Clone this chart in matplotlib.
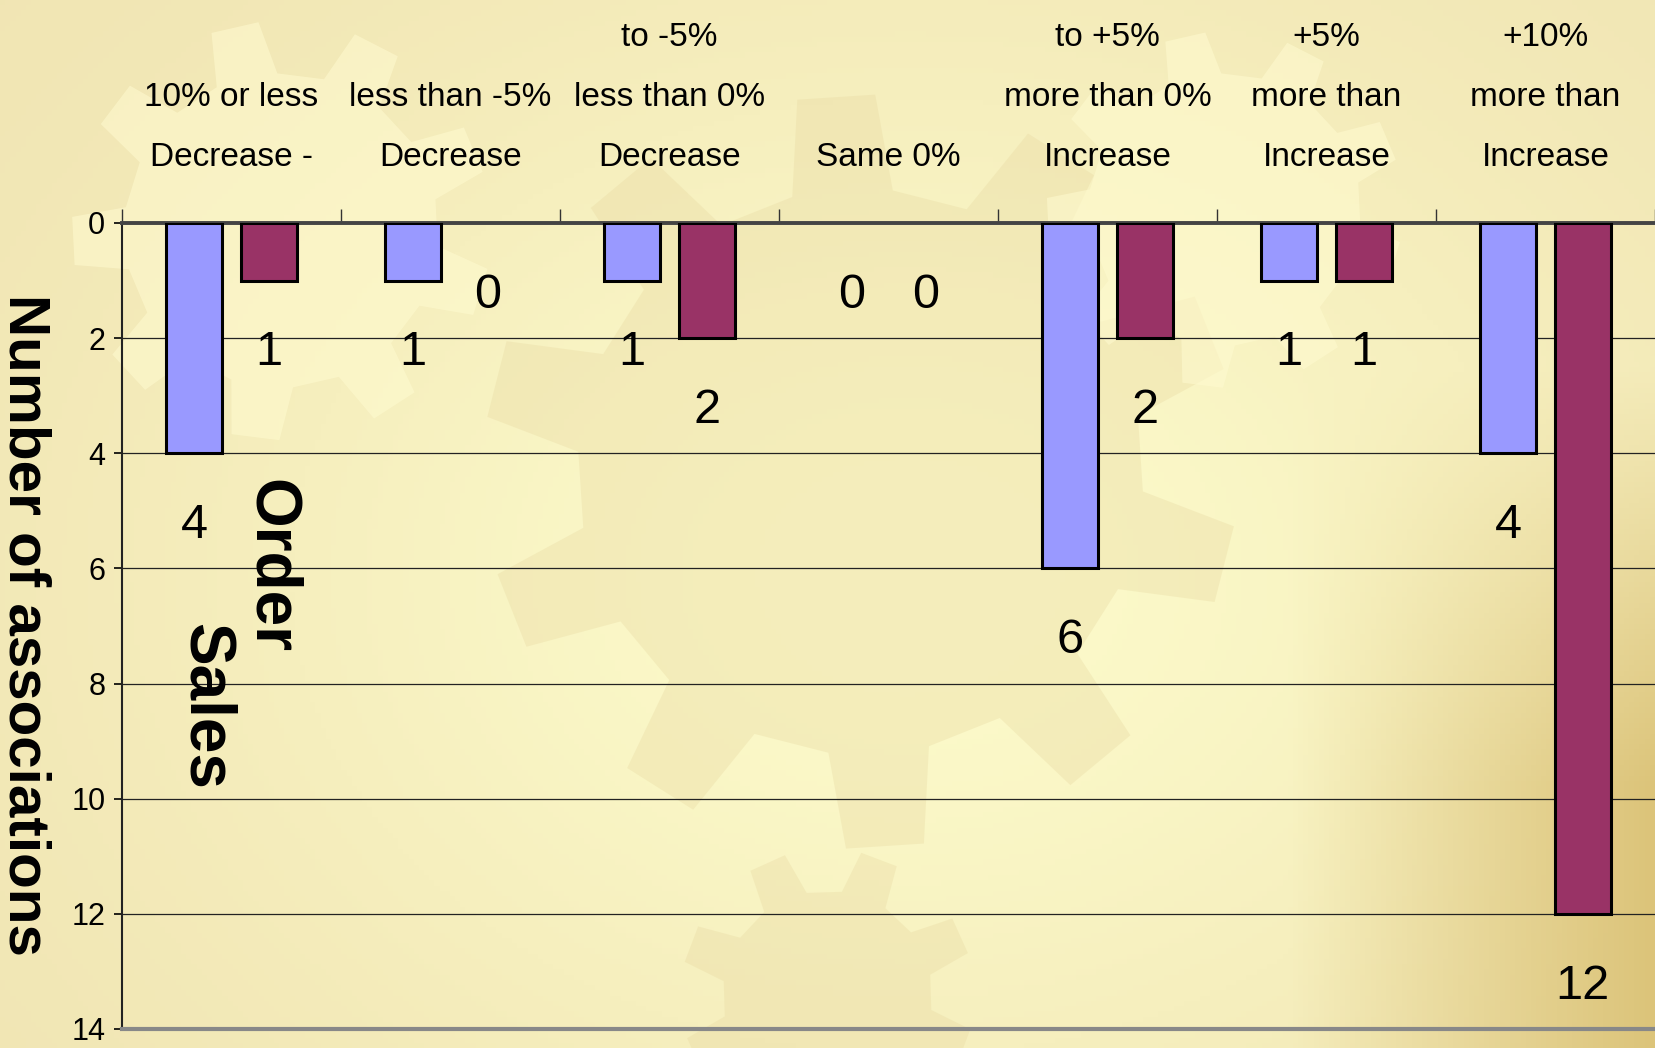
import matplotlib
matplotlib.use("Agg")
import matplotlib.pyplot as plt
import numpy as np
from matplotlib.patches import Polygon
from matplotlib.transforms import blended_transform_factory

plt.rcParams["font.family"] = ["Liberation Sans", "DejaVu Sans"]

# --- data ---------------------------------------------------------------
categories = [
    "Decrease -\n10% or less",
    "Decrease\nless than -5%",
    "Decrease\nless than 0%\nto -5%",
    "Same 0%",
    "Increase\nmore than 0%\nto +5%",
    "Increase\nmore than\n+5%",
    "Increase\nmore than\n+10%",
]
sales = [4, 1, 1, 0, 6, 1, 4]
orders = [1, 0, 2, 0, 2, 1, 12]
yticks = [0, 2, 4, 6, 8, 10, 12, 14]

SALES_COLOR = "#9999FF"
ORDERS_COLOR = "#993366"

W, H = 1655, 1048
fig = plt.figure(figsize=(W / 100, H / 100), dpi=100)

# --- background (beige slide with gears) ---------------------------------
bg = fig.add_axes([0, 0, 1, 1], zorder=-10)
yy, xx = np.mgrid[0:1:200j, 0:1:320j]
base = np.array([240, 228, 178]) / 255
light = np.array([252, 250, 202]) / 255
gold = np.array([220, 196, 122]) / 255
blob = np.exp(-(((xx - 0.55) / 0.45) ** 2 + ((yy - 0.55) / 0.55) ** 2))
img = base + (light - base) * blob[..., None]
ramp = np.clip((xx - 0.78) / 0.22, 0, 1) * np.clip((yy - 0.35) / 0.4, 0, 1)
img = img + (gold - img) * ramp[..., None]
bg.imshow(img, extent=(0, 1, 0, 1), aspect="auto", origin="upper")


def gear(cx, cy, r_out, r_in, teeth, rot=0.0):
    pts = []
    for k in range(teeth):
        a0 = rot + 2 * np.pi * k / teeth
        step = 2 * np.pi / teeth
        for frac, r in ((0.0, r_in), (0.12, r_out), (0.45, r_out), (0.57, r_in)):
            a = a0 + frac * step
            pts.append((cx + r * np.cos(a) * H / W, cy + r * np.sin(a)))
    return pts


for cx, cy, ro, ri, n, c, al in [
    (0.17, 0.78, 0.20, 0.15, 9, "#fffbd0", 0.55),
    (0.52, 0.55, 0.36, 0.27, 10, "#e8d9a2", 0.35),
    (0.74, 0.80, 0.17, 0.13, 9, "#fffbd0", 0.55),
    (0.50, 0.05, 0.14, 0.10, 8, "#e8d9a2", 0.35),
]:
    bg.add_patch(Polygon(gear(cx, cy, ro, ri, n, 0.2), closed=True,
                         facecolor=c, edgecolor="none", alpha=al))
bg.set_xlim(0, 1)
bg.set_ylim(0, 1)
bg.axis("off")

# --- chart ----------------------------------------------------------------
ax = fig.add_axes([122 / W, 1 - 1029 / H, 1 - 122 / W, (1029 - 223) / H])
ax.set_facecolor("none")

x = np.arange(len(categories))
width = 0.256
off = 0.17
b1 = ax.bar(x - off, sales, width, color=SALES_COLOR, edgecolor="black",
            linewidth=2.2, zorder=3)
b2 = ax.bar(x + off, orders, width, color=ORDERS_COLOR, edgecolor="black",
            linewidth=2.2, zorder=3)

for bars, vals in ((b1, sales), (b2, orders)):
    for rect, v in zip(bars, vals):
        if v == 0:
            rect.set_linewidth(0)
        ax.annotate(str(v), (rect.get_x() + rect.get_width() / 2, v),
                    xytext=(0, -52), textcoords="offset points",
                    ha="center", va="center", fontsize=35, zorder=4)

ax.set_xlim(-0.5, len(categories) - 0.5)
ax.set_ylim(14, 0)
ax.set_yticks(yticks)
ax.set_yticklabels([str(t) for t in yticks], fontsize=22)
ax.tick_params(axis="y", direction="out", length=6, width=1.2, pad=6)
ax.grid(axis="y", color="#222222", linewidth=0.9, zorder=1)

ax.xaxis.tick_top()
ax.set_xticks(np.arange(-0.5, len(categories), 1.0))
ax.set_xticklabels([])
ax.tick_params(axis="x", direction="out", length=10, width=1.0, color="#333333")

ax.spines["right"].set_visible(False)
ax.spines["left"].set_color("#222222")
ax.spines["left"].set_linewidth(1.5)
ax.spines["top"].set_color("#444444")
ax.spines["top"].set_linewidth(2.8)
ax.spines["bottom"].set_color("#888888")
ax.spines["bottom"].set_linewidth(3)

# category labels above the axis (first line nearest the axis)
trans = blended_transform_factory(ax.transData, ax.transAxes)
for i, lab in enumerate(categories):
    txt = "\n".join(reversed(lab.split("\n")))
    ax.text(i, 1.062, txt, transform=trans, ha="center", va="bottom",
            fontsize=24, linespacing=2.2, clip_on=False)

# series names written inside the plot
ax.text(-0.12, 8.4, "Sales", rotation=-90, ha="center", va="center",
        fontsize=46, fontweight="bold", zorder=4)
ax.text(0.18, 5.95, "Order", rotation=-90, ha="center", va="center",
        fontsize=46, fontweight="bold", zorder=4)

fig.text(0.015, 0.404, "Number of associations", rotation=-90,
         ha="center", va="center", fontsize=42, fontweight="bold")

fig.savefig("out.png", dpi=100)
